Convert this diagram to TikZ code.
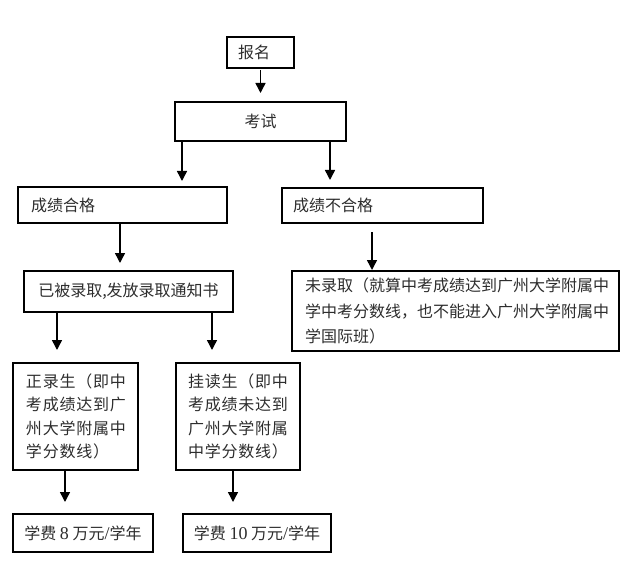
\documentclass[tikz,border=0pt]{standalone}
\usepackage{fontspec}
\setmainfont{Liberation Serif}
\newfontfamily\cjk{Noto Sans CJK SC}
\newfontfamily\cjkwide[LetterSpace=5]{Noto Sans CJK SC}
\usepackage{xcolor}
\usepackage{tikz}
\usetikzlibrary{arrows.meta,calc}
\definecolor{textgray}{RGB}{45, 45, 45}
\newcommand{\latinpart}[1]{{\rmfamily\fontsize{13.5pt}{19pt}\selectfont #1}}

\begin{document}
\begin{tikzpicture}[
    x=0.75pt, y=-0.75pt,
    base/.style={draw=black, line width=1.1pt, anchor=north west, outer sep=0pt, inner ysep=0pt, text=textgray, align=left,
        font=\cjk\fontsize{12pt}{19pt}\selectfont},
    widebox/.style={base, font=\cjkwide\fontsize{12pt}{17.5pt}\selectfont},
    arrow/.style={-{Triangle[width=7.5pt,length=7.5pt]}, line width=1.1pt, draw=black}
]
\useasboundingbox (0,0) rectangle (627,570);

% Nodes
\node (baoming) [base, minimum width=50.25pt, minimum height=23.25pt, inner xsep=8.25pt, text width=33.75pt] at (227,37) {报名};
\node (kaoshi) [base, align=center, minimum width=128.25pt, minimum height=29.25pt, inner xsep=0pt, text width=128.25pt] at (175,102) {考试};

\node (hege) [base, minimum width=156.75pt, minimum height=27pt, inner xsep=9.75pt, text width=137.25pt] at (18,187) {成绩合格};
\node (buhege) [base, minimum width=150.75pt, minimum height=26.25pt, inner xsep=8.25pt, text width=134.25pt] at (282,188) {成绩不合格};

\node (luqu) [base, align=center, minimum width=156.75pt, minimum height=30.75pt, inner xsep=0pt, text width=156.75pt] at (24,271) {已被录取,发放录取通知书};
\node (weiluqu) [base, minimum width=245.25pt, minimum height=60pt, inner xsep=9.75pt, text width=225.75pt] at (292,271)
    {未录取（就算中考成绩达到广州大学附属中\\学中考分数线，也不能进入广州大学附属中\\学国际班）};

\node (zheng) [widebox, minimum width=93.75pt, minimum height=80.25pt, inner xsep=9.75pt, text width=74.25pt] at (13,363)
    {正录生（即中\\考成绩达到广\\州大学附属中\\学分数线）};
\node (guadu) [widebox, minimum width=93pt, minimum height=80.25pt, inner xsep=9pt, text width=75pt] at (176,363)
    {挂读生（即中\\考成绩未达到\\广州大学附属\\中学分数线）};

\node (fee8) [base, align=center, minimum width=105pt, minimum height=28.5pt, inner xsep=0pt] at (13,514)
    {学费 \latinpart{8} 万元\latinpart{/}学年};
\node (fee10) [base, align=center, minimum width=111pt, minimum height=28.5pt, inner xsep=0pt] at (183,514)
    {学费 \latinpart{10} 万元\latinpart{/}学年};

% Connectors
\draw [arrow, shorten <=1.5pt, shorten >=6.75pt] (baoming.south) -- (kaoshi.north);
\draw [arrow, shorten >=4.5pt] ($(kaoshi.south west)+(7,0)$) -- ($(hege.north west)+(164,0)$);
\draw [arrow, shorten >=6pt] ($(kaoshi.south west)+(155,0)$) -- ($(buhege.north west)+(48,0)$);
\draw [arrow, shorten >=6pt] ($(hege.south west)+(102,0)$) -- ($(luqu.north west)+(96,0)$);
\draw [arrow, shorten <=6.75pt, shorten >=0.75pt] ($(buhege.south west)+(90,0)$) -- ($(weiluqu.north west)+(80,0)$);
\draw [arrow, shorten >=9.75pt] ($(luqu.south west)+(33,0)$) -- ($(zheng.north west)+(44,0)$);
\draw [arrow, shorten >=9.75pt] ($(luqu.south west)+(188,0)$) -- ($(guadu.north west)+(36,0)$);
\draw [arrow, shorten >=9pt] ($(zheng.south west)+(52,0)$) -- ($(fee8.north west)+(52,0)$);
\draw [arrow, shorten >=9pt] ($(guadu.south west)+(57,0)$) -- ($(fee10.north west)+(50,0)$);

\end{tikzpicture}
\end{document}
